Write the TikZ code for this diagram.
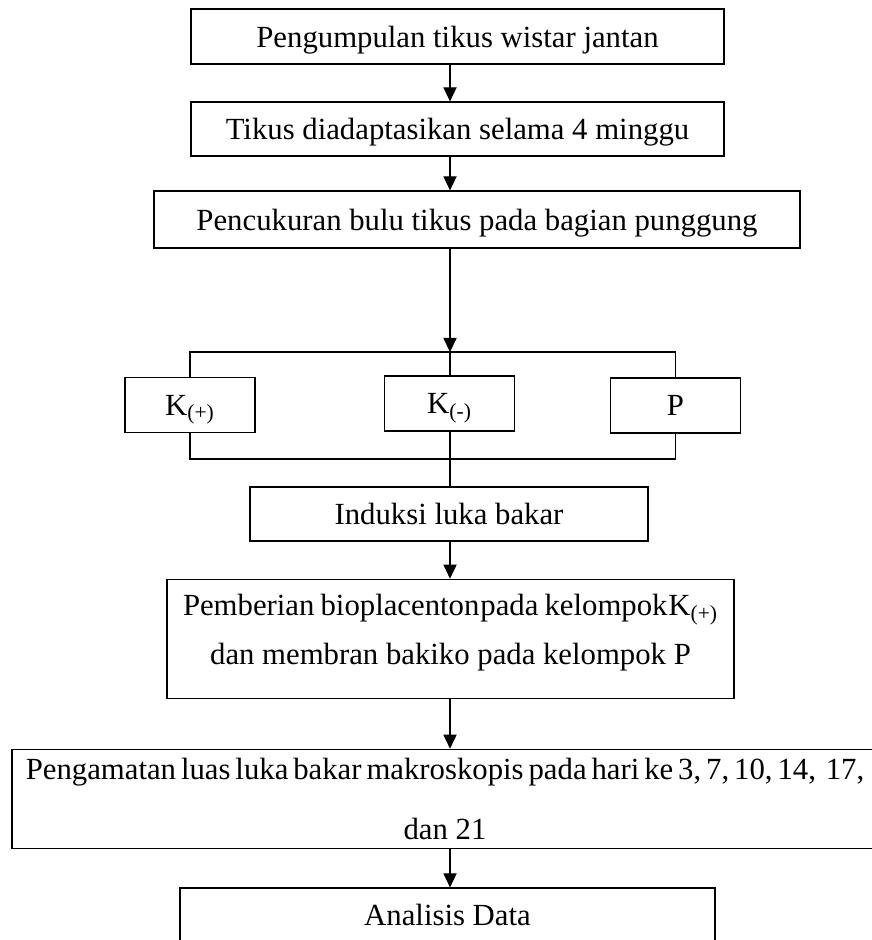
\documentclass[tikz,border=0pt]{standalone}
\usepackage{fontspec}
\setmainfont{Liberation Serif}
\usepackage{tikz}
\usetikzlibrary{arrows.meta, positioning, calc}

\begin{document}
\begin{tikzpicture}[
    x=0.02cm, y=-0.02cm,
    box/.style ={draw=black, line width=0.7pt, inner sep=0pt, align=center,
                 text depth=0pt, font=\fontsize{17.5}{21}\selectfont},
    grp/.style ={box, minimum width=2.6cm, minimum height=1.1cm},
    line/.style={draw=black, line width=0.7pt},
    arr/.style ={line, -{Triangle[width=7.5pt,length=8pt]}}
  ]
  \useasboundingbox (0,0) rectangle (872,940);
  \fill[white] (0,0) rectangle (872,940);

  %% ---- upper steps ---------------------------------------------------
  \node[box, minimum width=10.66cm, minimum height=1.1cm]  (kumpul) at (457.5,36.5) {Pengumpulan tikus wistar jantan};
  \node[box, minimum width=10.66cm, minimum height=1.08cm] (adapt)  at (457.5,129)  {Tikus diadaptasikan selama 4 minggu};
  \node[box, minimum width=12.92cm, minimum height=1.14cm] (cukur)  at (477,219.5)  {Pencukuran bulu tikus pada bagian punggung};

  \coordinate (spine)  at (450,0);
  \coordinate (bartop) at (450,352);
  \coordinate (barbot) at (450,459);

  %% ---- groups --------------------------------------------------------
  \node[grp] (kpos) at (190,405)   {K\textsubscript{(+)}};
  \node[grp] (kneg) at (449.5,403.5) {K\textsubscript{(-)}};
  \node[grp] (pgrp) at (675.5,405.5) {P};

  %% ---- lower steps ---------------------------------------------------
  \node[box, minimum width=7.96cm, minimum height=1.08cm] (induksi) at (449,514) {Induksi luka bakar};
  \node[box, minimum width=11.34cm, minimum height=2.38cm, text depth=0.376cm,
        font=\fontsize{17.5}{27.6}\selectfont] (beri) at (450.5,638.8)
        {{\spaceskip=0.2em Pemberian bioplacenton\hspace{0.03em}pada kelompok\hspace{0.03em}K\textsubscript{(+)}}\\
         dan membran bakiko pada kelompok P};
  \node[box, minimum width=17.32cm, minimum height=1.98cm,
        font=\fontsize{17.5}{34.5}\selectfont] (amat) at (445,798.8)
        {{\spaceskip=0.16em Pengamatan luas luka bakar makroskopis pada hari ke 3, 7, 10, 14,~~17,}\\
         dan 21};
  \node[box, minimum width=10.7cm, minimum height=1.08cm] (analisis) at (447.5,915) {Analisis Data};

  %% ---- connectors ----------------------------------------------------
  \draw[arr]  (kumpul.south -| spine) -- (adapt.north -| spine);
  \draw[arr]  (adapt.south -| spine) -- (cukur.north -| spine);
  \draw[arr]  (cukur.south -| spine) -- (bartop);
  \draw[line] (kpos.north) |- (bartop) -| (pgrp.north);
  \draw[line] (bartop) -- (bartop |- kneg.north);
  \draw[line] (kpos.south) |- (barbot) -| (pgrp.south);
  \draw[line] (barbot |- kneg.south) -- (barbot);
  \draw[line] (barbot) -- (induksi.north -| spine);
  \draw[arr]  (induksi.south -| spine) -- (beri.north -| spine);
  \draw[arr]  (beri.south -| spine) -- (amat.north -| spine);
  \draw[arr]  (amat.south -| spine) -- (analisis.north -| spine);

\end{tikzpicture}
\end{document}
